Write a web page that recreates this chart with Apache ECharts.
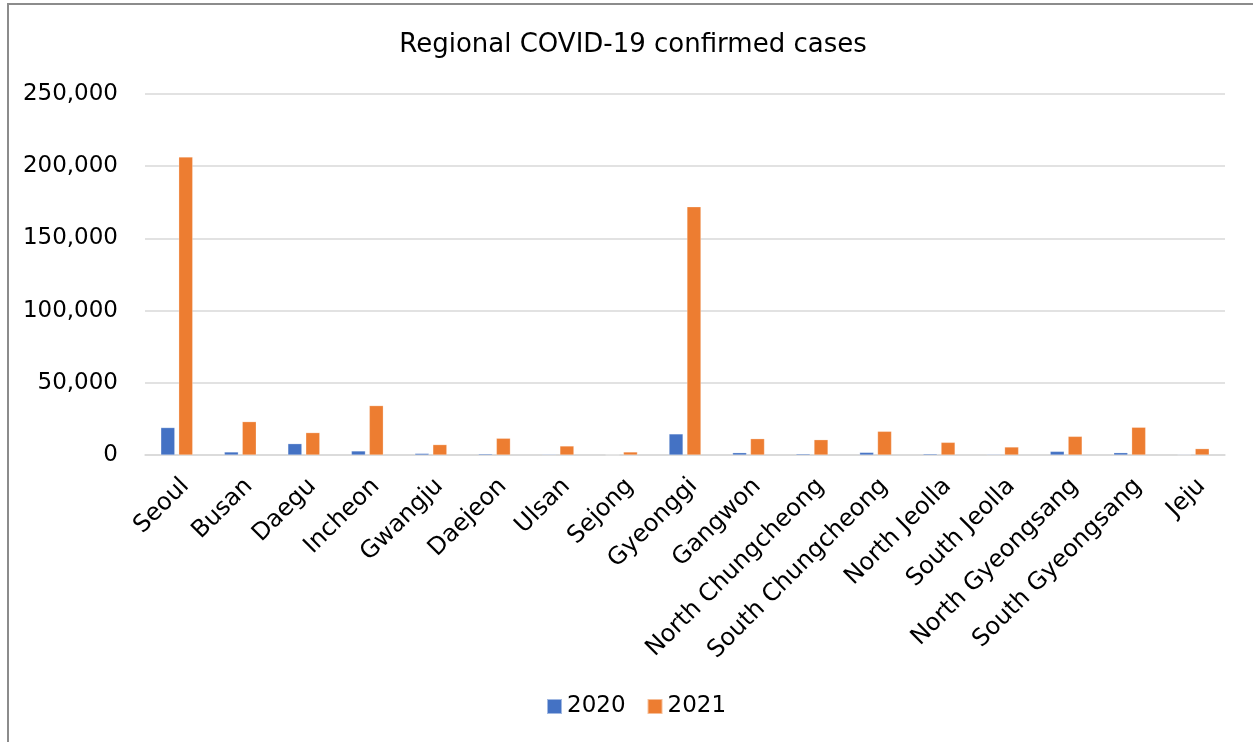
<!DOCTYPE html>
<html>
<head>
<meta charset="utf-8">
<script src="https://cdn.jsdelivr.net/npm/echarts@6/dist/echarts.min.js"></script>
<style>
  html, body { margin: 0; padding: 0; background: #fff; }
  #frame {
    position: absolute; left: 7px; top: 3px; width: 1300px; height: 800px;
    border: 2px solid #8c8c8c; box-sizing: border-box;
  }
  #chart { position: absolute; left: 0; top: 0; width: 1253px; height: 742px; }
</style>
</head>
<body>
<div id="frame"></div>
<div id="chart"></div>
<script>
// Confirmed COVID-19 cases by region
const regions = [
  'Seoul', 'Busan', 'Daegu', 'Incheon', 'Gwangju', 'Daejeon', 'Ulsan', 'Sejong',
  'Gyeonggi', 'Gangwon', 'North Chungcheong', 'South Chungcheong', 'North Jeolla',
  'South Jeolla', 'North Gyeongsang', 'South Gyeongsang', 'Jeju'
];
const cases2020 = [19000, 2100, 7850, 2800, 1100, 800, 500, 150,
  14600, 1600, 800, 1800, 800, 500, 2500, 1600, 400];
const cases2021 = [206400, 23100, 15500, 34200, 7200, 11600, 6250, 2100,
  171900, 11300, 10600, 16400, 8750, 5550, 12900, 19200, 4400];
const yTicks = { min: 0, max: 250000, step: 50000 };

const FONT = 'DejaVu Sans';
const chart = echarts.init(document.getElementById('chart'), null, { renderer: 'canvas' });

chart.setOption({
  backgroundColor: 'transparent',
  animation: false,
  title: {
    text: 'Regional COVID-19 confirmed cases',
    left: 628, top: 27, textAlign: 'center',
    textStyle: { fontFamily: FONT, fontSize: 26, fontWeight: 'normal', color: '#000' }
  },
  legend: {
    data: ['2020', '2021'],
    left: 541, top: 690,
    itemWidth: 15, itemHeight: 15, itemGap: 21,
    icon: 'rect',
    textStyle: { fontFamily: FONT, fontSize: 23, color: '#000' }
  },
  grid: { left: 145, right: 28, top: 94, bottom: 287, containLabel: false },
  xAxis: {
    type: 'category',
    data: regions,
    axisLine: { lineStyle: { color: '#d9d9d9', width: 1.5 } },
    axisTick: { show: false },
    axisLabel: {
      interval: 0, rotate: 45, margin: 19, verticalAlign: 'top',
      fontFamily: FONT, fontSize: 24, color: '#000'
    }
  },
  yAxis: {
    type: 'value',
    min: yTicks.min, max: yTicks.max, interval: yTicks.step,
    axisLine: { show: false },
    axisTick: { show: false },
    splitLine: { lineStyle: { color: '#d9d9d9', width: 1.5 } },
    axisLabel: {
      margin: 27, fontFamily: FONT, fontSize: 23, color: '#000',
      formatter: v => v.toLocaleString('en-US')
    }
  },
  series: [
    {
      name: '2020', type: 'bar', data: cases2020,
      barWidth: 14, barGap: '28%',
      itemStyle: { color: '#4472C4', borderColor: 'rgba(255,255,255,0.5)', borderWidth: 0.5 }
    },
    {
      name: '2021', type: 'bar', data: cases2021,
      barWidth: 14,
      itemStyle: { color: '#ED7D31', borderColor: 'rgba(255,255,255,0.5)', borderWidth: 0.5 }
    }
  ]
});
</script>
</body>
</html>
